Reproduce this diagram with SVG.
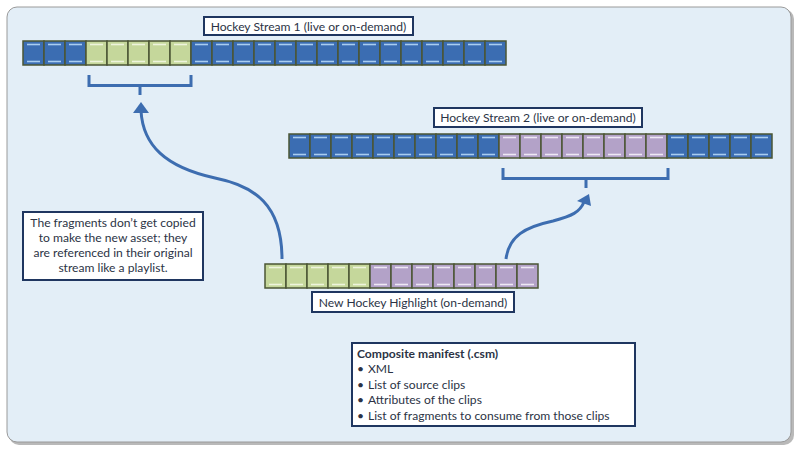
<svg xmlns="http://www.w3.org/2000/svg" width="800" height="451" viewBox="0 0 800 451">
<defs>
<style>
.bl{fill:#3b6db2;stroke:#4b5634;stroke-width:1.5}
.gr{fill:#c5d79b;stroke:#4b5634;stroke-width:1.5}
.pu{fill:#b3a2c8;stroke:#4b5634;stroke-width:1.5}
.hb{stroke:#a9cdf0;stroke-width:1.6}
.hg{stroke:#eef4dc;stroke-width:1.6}
.hp{stroke:#eee8f4;stroke-width:1.6}
.lbl{fill:#ffffff;stroke:#1f3660;stroke-width:2}
.t{font-family:Lato,"Open Sans","Liberation Sans",sans-serif;font-size:12.1px;fill:#2b3345}
.conn{fill:none;stroke:#3d6db0;stroke-width:3}
.brk{fill:none;stroke:#3d6db0;stroke-width:3}
</style>
<g id="cb"><rect class="bl" x="0" y="0" width="21" height="24"/><line class="hb" x1="4" y1="3.5" x2="17" y2="3.5"/><line class="hb" x1="4" y1="20.5" x2="17" y2="20.5"/></g>
<g id="cg"><rect class="gr" x="0" y="0" width="21" height="24"/><line class="hg" x1="4" y1="3.5" x2="17" y2="3.5"/><line class="hg" x1="4" y1="20.5" x2="17" y2="20.5"/></g>
<g id="cp"><rect class="pu" x="0" y="0" width="21" height="24"/><line class="hp" x1="4" y1="3.5" x2="17" y2="3.5"/><line class="hp" x1="4" y1="20.5" x2="17" y2="20.5"/></g>
</defs>
<rect x="0" y="0" width="800" height="451" fill="#ffffff"/>
<rect x="9" y="9" width="785" height="436" rx="10" fill="#8a8a8a" opacity="0.6"/>
<rect x="7" y="7" width="784" height="435" rx="10" fill="#e3eef7" stroke="#9a9a9a" stroke-width="1"/>

<g id="stream1">
<use href="#cb" x="23" y="41"/><use href="#cb" x="44" y="41"/><use href="#cb" x="65" y="41"/>
<use href="#cg" x="86" y="41"/><use href="#cg" x="107" y="41"/><use href="#cg" x="128" y="41"/><use href="#cg" x="149" y="41"/><use href="#cg" x="170" y="41"/>
<use href="#cb" x="191" y="41"/><use href="#cb" x="212" y="41"/><use href="#cb" x="233" y="41"/><use href="#cb" x="254" y="41"/><use href="#cb" x="275" y="41"/><use href="#cb" x="296" y="41"/><use href="#cb" x="317" y="41"/><use href="#cb" x="338" y="41"/><use href="#cb" x="359" y="41"/><use href="#cb" x="380" y="41"/><use href="#cb" x="401" y="41"/><use href="#cb" x="422" y="41"/><use href="#cb" x="443" y="41"/><use href="#cb" x="464" y="41"/><use href="#cb" x="485" y="41"/>
<rect class="lbl" x="204" y="17" width="209" height="18"/>
<text class="t" x="308.5" y="30.5" text-anchor="middle">Hockey Stream 1 (live or on-demand)</text>
</g>

<g id="stream2">
<use href="#cb" x="289" y="134"/><use href="#cb" x="310" y="134"/><use href="#cb" x="331" y="134"/><use href="#cb" x="352" y="134"/><use href="#cb" x="373" y="134"/><use href="#cb" x="394" y="134"/><use href="#cb" x="415" y="134"/><use href="#cb" x="436" y="134"/><use href="#cb" x="457" y="134"/><use href="#cb" x="478" y="134"/>
<use href="#cp" x="499" y="134"/><use href="#cp" x="520" y="134"/><use href="#cp" x="541" y="134"/><use href="#cp" x="562" y="134"/><use href="#cp" x="583" y="134"/><use href="#cp" x="604" y="134"/><use href="#cp" x="625" y="134"/><use href="#cp" x="646" y="134"/>
<use href="#cb" x="667" y="134"/><use href="#cb" x="688" y="134"/><use href="#cb" x="709" y="134"/><use href="#cb" x="730" y="134"/><use href="#cb" x="751" y="134"/>
<rect class="lbl" x="434" y="108" width="208" height="19"/>
<text class="t" x="538" y="122" text-anchor="middle">Hockey Stream 2 (live or on-demand)</text>
</g>

<g id="highlight">
<use href="#cg" x="265" y="264"/><use href="#cg" x="286" y="264"/><use href="#cg" x="307" y="264"/><use href="#cg" x="328" y="264"/><use href="#cg" x="349" y="264"/>
<use href="#cp" x="370" y="264"/><use href="#cp" x="391" y="264"/><use href="#cp" x="412" y="264"/><use href="#cp" x="433" y="264"/><use href="#cp" x="454" y="264"/><use href="#cp" x="475" y="264"/><use href="#cp" x="496" y="264"/><use href="#cp" x="517" y="264"/>
<rect class="lbl" x="312" y="292" width="202" height="20"/>
<text class="t" x="413" y="306.5" text-anchor="middle">New Hockey Highlight (on-demand)</text>
</g>

<g id="note">
<rect class="lbl" x="23" y="212" width="180" height="68"/>
<text class="t" text-anchor="middle"><tspan x="113" y="227">The fragments don’t get copied</tspan><tspan x="113" y="242">to make the new asset; they</tspan><tspan x="113" y="257">are referenced in their original</tspan><tspan x="113" y="272">stream like a playlist.</tspan></text>
</g>

<g id="manifest">
<rect class="lbl" x="352" y="343" width="283" height="83"/>
<text class="t" x="357" y="357.5" font-weight="bold">Composite manifest (.csm)</text>
<text class="t"><tspan x="357" y="373">•</tspan><tspan x="368" y="373">XML</tspan><tspan x="357" y="388.5">•</tspan><tspan x="368" y="388.5">List of source clips</tspan><tspan x="357" y="404">•</tspan><tspan x="368" y="404">Attributes of the clips</tspan><tspan x="357" y="419.5">•</tspan><tspan x="368" y="419.5">List of fragments to consume from those clips</tspan></text>
</g>

<g id="connectors">
<path class="brk" d="M 89 75 V 85.5 H 191 V 75 M 140 85.5 V 95"/>
<path class="brk" d="M 503 168 V 178.5 H 668 V 168 M 586 178.5 V 188"/>
<path class="conn" d="M 282 259 C 282 205 255 186 215 178 C 165 167 143 145 141 111"/>
<polygon points="141,102 133,113 149,113" fill="#3d6db0"/>
<path class="conn" d="M 506 259 C 509 236 525 227 553 221 C 572 216 580 212 584 202"/>
<polygon points="589,194 577,201 591,206" fill="#3d6db0"/>
</g>
</svg>
